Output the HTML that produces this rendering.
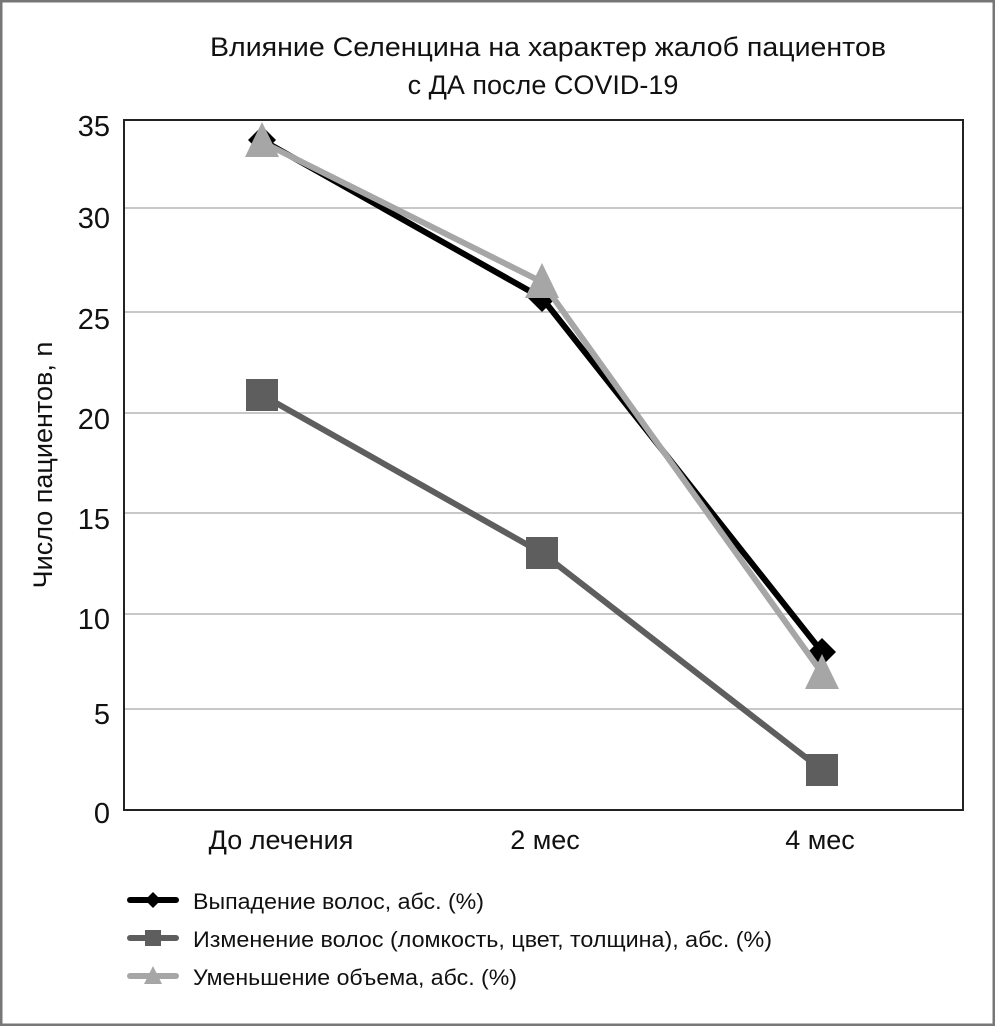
<!DOCTYPE html>
<html><head><meta charset="utf-8"><style>
html,body{margin:0;padding:0;background:#fff}
svg{display:block}
text{font-family:"Liberation Sans",sans-serif;fill:#111}
</style></head><body>
<svg width="995" height="1026" viewBox="0 0 995 1026" xmlns="http://www.w3.org/2000/svg">
<rect x="1" y="1" width="993" height="1024" fill="#fff" stroke="#777" stroke-width="3"/>
<text x="548" y="56" font-size="27" text-anchor="middle" textLength="676" lengthAdjust="spacingAndGlyphs">Влияние Селенцина на характер жалоб пациентов</text>
<text x="543" y="94" font-size="27" text-anchor="middle">с ДА после COVID-19</text>
<g stroke="#c8c8c8" stroke-width="2">
<line x1="124" y1="208" x2="963" y2="208"/>
<line x1="124" y1="312" x2="963" y2="312"/>
<line x1="124" y1="413" x2="963" y2="413"/>
<line x1="124" y1="513" x2="963" y2="513"/>
<line x1="124" y1="614" x2="963" y2="614"/>
<line x1="124" y1="709" x2="963" y2="709"/>
</g>
<rect x="124" y="120" width="839" height="690" fill="none" stroke="#222" stroke-width="2"/>
<g font-size="29" text-anchor="end">
<text x="110" y="136">35</text>
<text x="110" y="228">30</text>
<text x="110" y="329">25</text>
<text x="110" y="429">20</text>
<text x="110" y="529">15</text>
<text x="110" y="629">10</text>
<text x="110" y="724">5</text>
<text x="110" y="823">0</text>
</g>
<text transform="translate(52,465) rotate(-90)" font-size="27" text-anchor="middle">Число пациентов, n</text>
<g font-size="27" text-anchor="middle">
<text x="281" y="849">До лечения</text>
<text x="545" y="849">2 мес</text>
<text x="820" y="849">4 мес</text>
</g>
<polyline points="262,395 542,553 822,770" fill="none" stroke="#5e5e5e" stroke-width="6"/>
<rect x="246" y="379" width="32" height="32" fill="#5e5e5e"/>
<rect x="526" y="537" width="32" height="32" fill="#5e5e5e"/>
<rect x="806" y="754" width="32" height="32" fill="#5e5e5e"/>
<polyline points="262,140 542,298 822,652" fill="none" stroke="#000" stroke-width="6"/>
<polygon points="262,126 276,140 262,154 248,140" fill="#000"/>
<polygon points="542,284 556,298 542,312 528,298" fill="#000"/>
<polygon points="822,638 836,652 822,666 808,652" fill="#000"/>
<polyline points="262,142 542,282 822,673" fill="none" stroke="#a6a6a6" stroke-width="6"/>
<polygon points="262,122 245,157 279,157" fill="#a6a6a6"/>
<polygon points="542,263 525,298 559,298" fill="#a6a6a6"/>
<polygon points="822,654 805,689 839,689" fill="#a6a6a6"/>
<line x1="130" y1="900" x2="176" y2="900" stroke="#000" stroke-width="6" stroke-linecap="round"/>
<polygon points="153,892 161,900 153,908 145,900" fill="#000"/>
<text x="193" y="909" font-size="22.5" textLength="291" lengthAdjust="spacingAndGlyphs">Выпадение волос, абс. (%)</text>
<line x1="130" y1="938" x2="176" y2="938" stroke="#5e5e5e" stroke-width="6" stroke-linecap="round"/>
<rect x="145" y="930" width="16" height="16" fill="#5e5e5e"/>
<text x="193" y="947" font-size="22.5" textLength="579" lengthAdjust="spacingAndGlyphs">Изменение волос (ломкость, цвет, толщина), абс. (%)</text>
<line x1="130" y1="976" x2="176" y2="976" stroke="#a6a6a6" stroke-width="6" stroke-linecap="round"/>
<polygon points="153,966 144,984 162,984" fill="#a6a6a6"/>
<text x="193" y="985" font-size="22.5" textLength="324" lengthAdjust="spacingAndGlyphs">Уменьшение объема, абс. (%)</text>
</svg>
</body></html>
